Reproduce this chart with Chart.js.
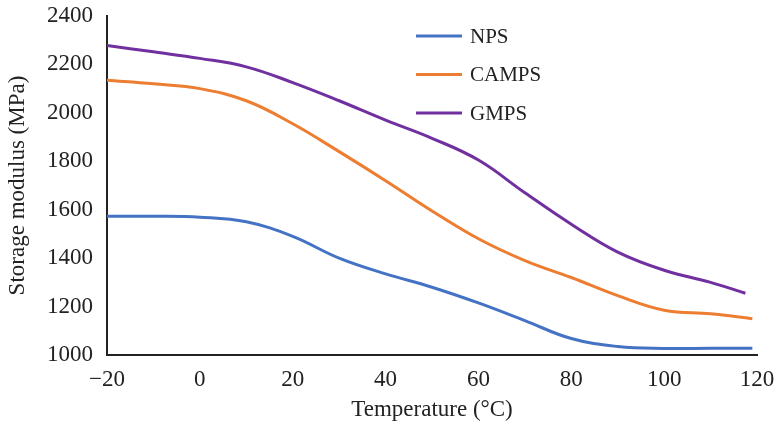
<!DOCTYPE html>
<html>
<head>
<meta charset="utf-8">
<script src="https://cdn.jsdelivr.net/npm/chart.js@4/dist/chart.umd.min.js"></script>
<style>
  body { margin: 0; background: #fff; }
  #wrap { width: 778px; height: 429px; }
</style>
</head>
<body>
<div id="wrap"><canvas id="modulus" width="778" height="429"></canvas></div>
<script>
// temperatures (°C)
var temps = [-20, -10, 0, 10, 20, 30, 40, 50, 60, 70, 80, 90, 100, 110, 119];
var gmps_temps = [-20, -10, 0, 10, 20, 30, 40, 50, 60, 70, 80, 90, 100, 110, 117.5];

// storage modulus (MPa)
var nps   = [1573, 1573, 1569, 1550, 1490, 1400, 1335, 1280, 1215, 1142, 1068, 1035, 1027, 1028, 1028];
var camps = [2135, 2120, 2100, 2050, 1955, 1840, 1720, 1595, 1480, 1390, 1320, 1245, 1185, 1170, 1150];
var gmps  = [2278, 2252, 2225, 2190, 2125, 2050, 1970, 1895, 1805, 1670, 1540, 1425, 1350, 1300, 1255];

var series_names = ['NPS', 'CAMPS', 'GMPS'];
var series_colors = ['#4472C4', '#ED7D31', '#7030A0'];

var x_ticks = [-20, 0, 20, 40, 60, 80, 100, 120];
var y_ticks = [1000, 1200, 1400, 1600, 1800, 2000, 2200, 2400];

var FONT = '"Liberation Serif", "Times New Roman", serif';

function pts(xs, ys) {
    var out = [];
    for (var i = 0; i < xs.length; i++) out.push({x: xs[i], y: ys[i]});
    return out;
}

function make_datasets() {
    var all = [pts(temps, nps), pts(temps, camps), pts(gmps_temps, gmps)];
    var datasets = [];
    for (var i = 0; i < all.length; i++) {
        datasets.push({
            label: series_names[i],
            data: all[i],
            showLine: true,
            borderColor: series_colors[i],
            backgroundColor: series_colors[i],
            borderWidth: 3,
            pointRadius: 0,
            tension: 0.4
        });
    }
    return datasets;
}

// legend drawn at the spot it has in the picture
var side_legend = {
    id: 'side_legend',
    afterDraw: function(chart) {
        var ctx = chart.ctx;
        ctx.save();
        chart.data.datasets.forEach(function(ds, i) {
            var y = 36 + i * 38.5;
            ctx.strokeStyle = ds.borderColor;
            ctx.lineWidth = 3;
            ctx.beginPath();
            ctx.moveTo(416, y);
            ctx.lineTo(462, y);
            ctx.stroke();
            ctx.fillStyle = '#222';
            ctx.font = '21px ' + FONT;
            ctx.textBaseline = 'middle';
            ctx.fillText(ds.label, 470, y + 1);
        });
        ctx.restore();
    }
};

var chart = new Chart(document.getElementById('modulus'), {
    type: 'scatter',
    data: { datasets: make_datasets() },
    plugins: [side_legend],
    options: {
        responsive: false,
        animation: false,
        layout: { padding: { left: 4, right: 21, top: 16, bottom: 5 } },
        plugins: { legend: { display: false }, tooltip: { enabled: false } },
        scales: {
            x: {
                type: 'linear',
                min: -20, max: 120,
                afterBuildTicks: function(s) { s.ticks = x_ticks.map(function(v) { return {value: v}; }); },
                afterFit: function(s) {
                    s.height = 429 - 355 - 5;
                    s.paddingLeft = 0;
                    s.paddingRight = 0;
                },
                grid: { color: 'transparent', drawTicks: false },
                border: { display: true, color: '#222', width: 2 },
                ticks: {
                    color: '#222', padding: 11,
                    font: { family: FONT, size: 23 },
                    callback: function(v) { return v < 0 ? '\u2212' + Math.abs(v) : '' + v; }
                },
                title: {
                    display: true, text: 'Temperature (\u00B0C)', color: '#222',
                    font: { family: FONT, size: 23 }, padding: { top: 2, bottom: 0 }
                }
            },
            y: {
                min: 1000, max: 2400,
                afterBuildTicks: function(s) { s.ticks = y_ticks.map(function(v) { return {value: v}; }); },
                afterFit: function(s) {
                    s.width = 107 - 4;
                    s.paddingTop = 0;
                    s.paddingBottom = 0;
                },
                grid: { color: 'transparent', drawTicks: false },
                border: { display: true, color: '#222', width: 2 },
                ticks: {
                    color: '#222', padding: 14,
                    font: { family: FONT, size: 23 },
                    callback: function(v) { return '' + v; }
                },
                title: {
                    display: true, text: 'Storage modulus (MPa)', color: '#222',
                    font: { family: FONT, size: 23 }, padding: { top: 0, bottom: 0 }
                }
            }
        }
    }
});
window.myChart = chart;
</script>
</body>
</html>
